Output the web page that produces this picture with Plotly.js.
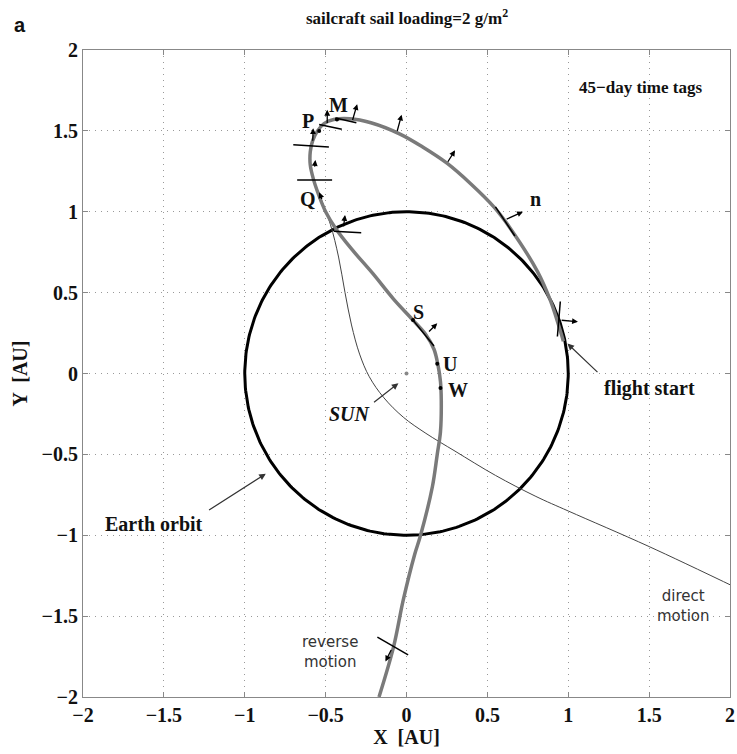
<!DOCTYPE html>
<html>
<head>
<meta charset="utf-8">
<script src="https://cdn.plot.ly/plotly-3.0.1.min.js"></script>
<style>html,body{margin:0;padding:0;background:#fff}#chart{width:737px;height:754px}</style>
</head>
<body>
<div id="chart"></div>
<script>
// ---- data (AU) ----
const earthOrbitRadius = 1;
const sunPos = [0, 0];

// sailcraft trajectory (reverse motion), from flight start
const trajX = [0.97, 0.94, 0.89, 0.81, 0.64, 0.54, 0.40, 0.25, 0.10, -0.04, -0.22, -0.35, -0.45, -0.51, -0.55, -0.58, -0.595, -0.595, -0.575, -0.545, -0.50, -0.44, -0.34, -0.21, -0.08, 0.04, 0.12, 0.17, 0.195, 0.21, 0.215, 0.21, 0.19, 0.16, 0.087, 0.05, -0.02, -0.08, -0.17];
const trajY = [0.20, 0.30, 0.45, 0.63, 0.90, 1.03, 1.17, 1.30, 1.40, 1.48, 1.55, 1.575, 1.57, 1.545, 1.50, 1.44, 1.37, 1.29, 1.20, 1.11, 1.00, 0.90, 0.77, 0.62, 0.46, 0.33, 0.24, 0.15, 0.05, -0.05, -0.17, -0.36, -0.50, -0.70, -1.0, -1.12, -1.40, -1.69, -2.0];

// direct-motion trajectory
const directX = [-0.54, -0.47, -0.42, -0.38, -0.34, -0.29, -0.23, -0.14, -0.02, 0.12, 0.30, 0.55, 0.80, 1.00, 1.50, 2.05];
const directY = [1.11, 0.92, 0.72, 0.50, 0.30, 0.12, -0.02, -0.15, -0.27, -0.37, -0.48, -0.63, -0.76, -0.85, -1.07, -1.33];

// 45-day time tags: sail-orientation segments
const tagSegX0 = [0.951, 0.55, -0.44, -0.54, -0.70, -0.676, -0.45, 0.04, -0.18];
const tagSegY0 = [0.445, 1.03, 1.58, 1.54, 1.414, 1.197, 0.88, 0.33, -1.63];
const tagSegX1 = [0.933, 0.67, -0.31, -0.40, -0.48, -0.46, -0.28, 0.17, 0.01];
const tagSegY1 = [0.229, 0.85, 1.55, 1.51, 1.40, 1.197, 0.87, 0.17, -1.74];

// thrust arrows: tail -> head
const arrTailX = [0.95, 0.61, 0.25, -0.06, -0.336, -0.49, -0.58, -0.569, -0.52, -0.39, 0.13, -0.09];
const arrTailY = [0.33, 0.95, 1.30, 1.49, 1.558, 1.54, 1.43, 1.27, 1.07, 0.90, 0.25, -1.70];
const arrHeadX = [1.06, 0.72, 0.30, -0.03, -0.305, -0.49, -0.577, -0.563, -0.54, -0.38, 0.19, -0.13];
const arrHeadY = [0.32, 1.00, 1.38, 1.60, 1.665, 1.63, 1.517, 1.32, 1.12, 0.98, 0.31, -1.78];

// tag points on trajectory
const dotX = [-0.43, -0.54, 0.04, 0.19, 0.21];
const dotY = [1.57, 1.50, 0.33, 0.06, -0.09];

// point labels
const ptLabels = ['M', 'P', 'Q', 'n', 'S', 'U', 'W'];
const ptLabelX = [-0.42, -0.61, -0.61, 0.80, 0.074, 0.27, 0.32];
const ptLabelY = [1.66, 1.56, 1.08, 1.08, 0.383, 0.06, -0.10];

const tickVals = [-2, -1.5, -1, -0.5, 0, 0.5, 1, 1.5, 2];

// ---- traces ----
const serif = 'Liberation Serif, Times New Roman, serif';
const traces = [];

// Earth orbit: circle of radius earthOrbitRadius
const nC = 361;
const cx = [], cy = [];
for (let i = 0; i < nC; i++) {
  const t = 2 * Math.PI * i / (nC - 1);
  cx.push(earthOrbitRadius * Math.cos(t));
  cy.push(earthOrbitRadius * Math.sin(t));
}
traces.push({x: cx, y: cy, mode: 'lines', line: {color: '#000', width: 3}, hoverinfo: 'skip'});

traces.push({x: directX, y: directY, mode: 'lines', line: {color: '#444', width: 1, shape: 'spline', smoothing: 1}, hoverinfo: 'skip'});

traces.push({x: trajX, y: trajY, mode: 'lines', line: {color: '#7a7a7a', width: 3.5, shape: 'spline', smoothing: 1}, hoverinfo: 'skip'});

// tag segments
const segX = [], segY = [];
for (let i = 0; i < tagSegX0.length; i++) {
  segX.push(tagSegX0[i], tagSegX1[i], null);
  segY.push(tagSegY0[i], tagSegY1[i], null);
}
traces.push({x: segX, y: segY, mode: 'lines', line: {color: '#000', width: 1.5}, hoverinfo: 'skip'});

traces.push({x: dotX, y: dotY, mode: 'markers', marker: {color: '#000', size: 4}, hoverinfo: 'skip'});
traces.push({x: [sunPos[0]], y: [sunPos[1]], mode: 'markers', marker: {color: '#888', size: 4}, hoverinfo: 'skip'});

// ---- annotations ----
const ann = [];
for (let i = 0; i < arrTailX.length; i++) {
  ann.push({x: arrHeadX[i], y: arrHeadY[i], ax: arrTailX[i], ay: arrTailY[i], xref: 'x', yref: 'y', axref: 'x', ayref: 'y',
    text: '', showarrow: true, arrowhead: 2, arrowsize: 0.9, arrowwidth: 1.3, arrowcolor: '#000', standoff: 0, startstandoff: 0});
}
for (let i = 0; i < ptLabels.length; i++) {
  ann.push({x: ptLabelX[i], y: ptLabelY[i], xref: 'x', yref: 'y', text: ptLabels[i], showarrow: false,
    font: {family: serif, size: 20, weight: 'bold', color: '#111'}});
}
const bold20 = {family: serif, size: 20, weight: 'bold', color: '#111'};
ann.push({x: 1.447, y: 1.768, xref: 'x', yref: 'y', text: '45\u2212day time tags', showarrow: false, font: {family: serif, size: 17, weight: 'bold', color: '#111'}});
ann.push({x: -0.35, y: -0.25, xref: 'x', yref: 'y', text: '<i>SUN</i>', showarrow: false, font: bold20});
ann.push({x: 1.50, y: -0.09, xref: 'x', yref: 'y', text: 'flight start', showarrow: false, font: bold20});
ann.push({x: -1.56, y: -0.93, xref: 'x', yref: 'y', text: 'Earth orbit', showarrow: false, font: bold20});
// pointer arrows
const ptr = [[1.19, 0.0, 0.995, 0.185], [-1.23, -0.85, -0.87, -0.62], [-0.21, -0.185, -0.05, -0.06]];
ptr.forEach(p => ann.push({x: p[2], y: p[3], ax: p[0], ay: p[1], xref: 'x', yref: 'y', axref: 'x', ayref: 'y', text: '',
  showarrow: true, arrowhead: 2, arrowsize: 1.1, arrowwidth: 1.2, arrowcolor: '#333', standoff: 0, startstandoff: 0}));
const sans = {family: 'DejaVu Sans, sans-serif', size: 15, color: '#333'};
ann.push({x: 1.71, y: -1.44, xref: 'x', yref: 'y', text: 'direct<br>motion', showarrow: false, font: sans, align: 'center'});
ann.push({x: -0.47, y: -1.72, xref: 'x', yref: 'y', text: 'reverse<br>motion', showarrow: false, font: sans, align: 'center'});
ann.push({x: -0.1097, y: 1.0587, xref: 'paper', yref: 'paper', text: 'a', showarrow: false, font: {family: 'Liberation Sans, Arial, sans-serif', size: 20, weight: 'bold', color: '#111'}});

const axisCommon = {
  range: [-2, 2], tickvals: tickVals, ticks: 'inside', ticklen: 5, tickcolor: '#888',
  showline: true, linecolor: '#888', linewidth: 1, mirror: 'ticks',
  showgrid: true, gridcolor: '#999', griddash: '1px,5px', gridwidth: 1, zeroline: false,
  tickfont: {family: serif, size: 20, weight: 'bold', color: '#111'}
};

const layout = {
  width: 737, height: 754,
  margin: {l: 83, r: 7, t: 50, b: 57},
  paper_bgcolor: '#fff', plot_bgcolor: '#fff',
  showlegend: false,
  title: {text: 'sailcraft sail loading=2 g/m<sup>2</sup>', x: 0.5008, xref: 'paper', y: 0.976, yref: 'container', yanchor: 'middle',
    font: {family: serif, size: 17, weight: 'bold', color: '#111'}},
  xaxis: Object.assign({}, axisCommon, {title: {text: 'X  [AU]', font: bold20, standoff: 4}}),
  yaxis: Object.assign({}, axisCommon, {title: {text: 'Y  [AU]', font: bold20, standoff: 8}}),
  annotations: ann
};

Plotly.newPlot('chart', traces, layout, {staticPlot: true});
</script>
</body>
</html>
